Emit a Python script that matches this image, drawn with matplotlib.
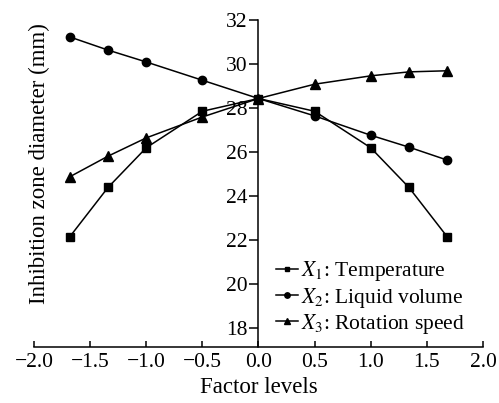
import matplotlib
matplotlib.use('Agg')
import matplotlib.pyplot as plt

font = {'family': 'Liberation Serif', 'size': 15.5}
matplotlib.rc('font', **font)
matplotlib.rcParams['mathtext.fontset'] = 'stix'
matplotlib.rcParams['axes.unicode_minus'] = True

# factor levels (coded)
levels = [-1.682, -1.34, -1.0, -0.5, 0.0, 0.5, 1.0, 1.34, 1.682]

# inhibition zone diameter (mm)
temperature = [22.15, 24.40, 26.20, 27.86, 28.44, 27.86, 26.20, 24.40, 22.15]
liquid_volume = [31.24, 30.64, 30.10, 29.27, 28.44, 27.65, 26.77, 26.23, 25.64]
rotation_speed = [24.88, 25.82, 26.65, 27.60, 28.44, 29.09, 29.47, 29.65, 29.70]

labels = [r'$X_1$: Temperature', r'$X_2$: Liquid volume', r'$X_3$: Rotation speed']

fig = plt.figure(figsize=(4.99, 4.03), dpi=100)
ax = fig.add_axes([0.068, 0.139, 0.900, 0.811])

ax.plot(levels, temperature, color='black', lw=1.1, marker='s', ms=5.5, label=labels[0])
ax.plot(levels, liquid_volume, color='black', lw=1.1, marker='o', ms=6, label=labels[1])
ax.plot(levels, rotation_speed, color='black', lw=1.1, marker='^', ms=6.5, label=labels[2])

ax.set_xlim(-2.0, 2.0)
ax.set_ylim(17.15, 32)
ax.set_xticks([-2.0, -1.5, -1.0, -0.5, 0.0, 0.5, 1.0, 1.5, 2.0])
ax.set_xticklabels(['\u22122.0', '\u22121.5', '\u22121.0', '\u22120.5', '0.0',
                    '0.5', '1.0', '1.5', '2.0'])
ax.set_yticks(range(18, 33, 2))

ax.spines['left'].set_position(('data', 0))
ax.spines['right'].set_visible(False)
ax.spines['top'].set_visible(False)
for s in ('left', 'bottom'):
    ax.spines[s].set_linewidth(1.1)

ax.tick_params(axis='y', direction='out', length=6.5, width=1.1, pad=1.5)
ax.tick_params(axis='x', direction='in', length=4, width=1.1, pad=4)

ax.set_xlabel('Factor levels', fontsize=16.5, labelpad=4)
fig.text(0.08, 0.595, 'Inhibition zone diameter (mm)', rotation=90,
         ha='center', va='center', fontsize=16.5)

ax.legend(loc='lower left', bbox_to_anchor=(0.52, 0.008), frameon=False,
          handlelength=1.0, handletextpad=0.15, labelspacing=0.1,
          markerscale=0.65, borderaxespad=0)

fig.savefig('out.png', dpi=100)
